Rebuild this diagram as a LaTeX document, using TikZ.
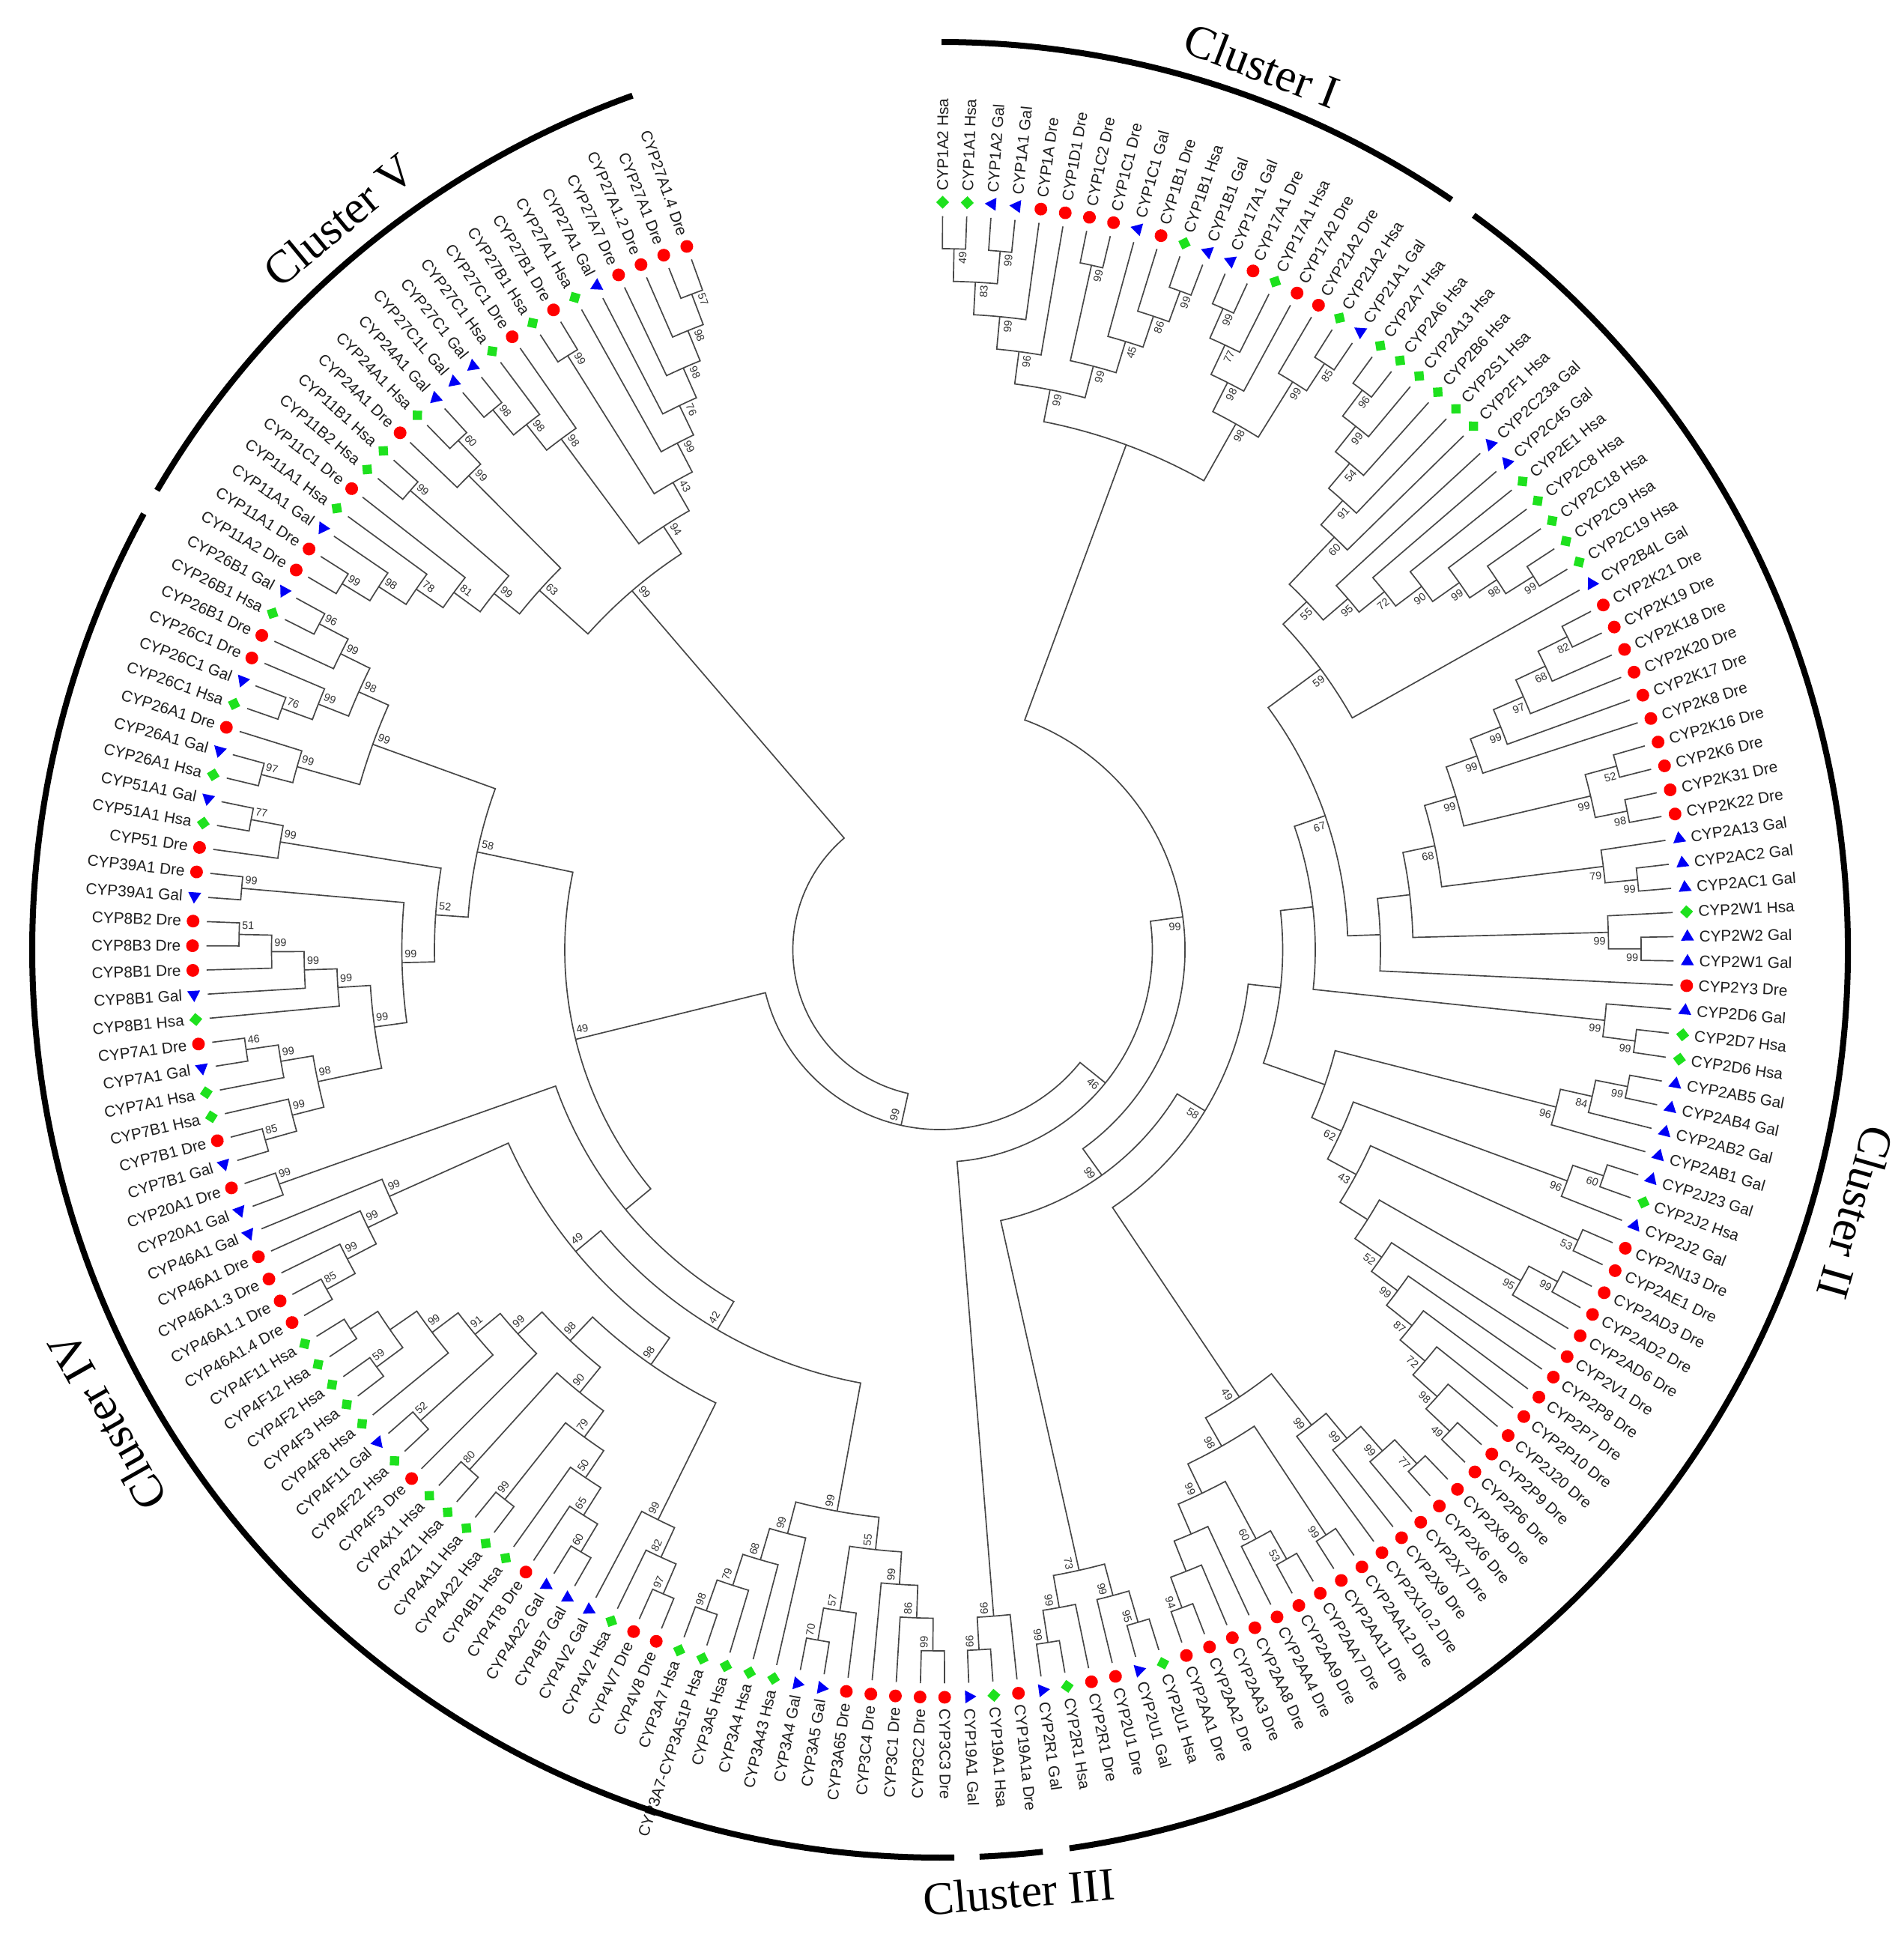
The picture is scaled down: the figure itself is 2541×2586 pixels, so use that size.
\documentclass[tikz,border=0pt]{standalone}
\usepackage{fontspec}
\setmainfont{Liberation Serif}
\newfontfamily\arialf{Liberation Sans}
\definecolor{mred}{RGB}{255,0,0}
\definecolor{mgreen}{RGB}{30,225,30}
\definecolor{mblue}{RGB}{0,0,245}
\tikzset{
 br/.style={draw=black!72, line width=0.42pt},
 leaflab/.style={font=\arialf\fontsize{5.2}{6}\selectfont, inner sep=0pt, text=black!88},
 bslab/.style={font=\arialf\fontsize{3.6}{4}\selectfont, inner sep=0pt, text=black!80},
 clus/.style={line width=2pt, draw=black},
 cluslab/.style={font=\fontsize{15.5}{18}\selectfont, inner sep=0pt},
}
\def\RL{979.5}
\def\STEP{43.5}
\def\mkR{\fill[mred] (0,0) circle (8.5);}
\def\mkG{\fill[mgreen] (8.7,0) -- (0,8.7) -- (-8.7,0) -- (0,-8.7) -- cycle;}
\def\mkB{\fill[mblue] (0,9.5) -- (-8.7,-5.5) -- (8.7,-5.5) -- cycle;}
\newcommand\lf[3]{%
  \pgfmathsetmacro\tA{89.8-(#1-1)*1.888889}%
  \expandafter\xdef\csname trA L#1\endcsname{\tA}%
  \expandafter\xdef\csname trD L#1\endcsname{0}%
  \coordinate (L#1) at (\tA:\RL);
  \begin{scope}[shift={(\tA:998)},rotate=\tA]\csname mk#3\endcsname\end{scope}
  \ifdim\tA pt>-90pt
    \node[leaflab,anchor=west,rotate=\tA] (T#1) at (\tA:1013) {#2};
  \else
    \pgfmathsetmacro\tR{\tA+180}%
    \node[leaflab,anchor=east,rotate=\tR] (T#1) at (\tA:1013) {#2};
  \fi
}
\newcommand\nd[4]{%
  \edef\cA{\csname trA #2\endcsname}\edef\cB{\csname trA #3\endcsname}%
  \edef\eA{\csname trD #2\endcsname}\edef\eB{\csname trD #3\endcsname}%
  \pgfmathsetmacro\nA{(\cA+\cB)/2}%
  \pgfmathtruncatemacro\nD{max(\eA,\eB)+1}%
  \pgfmathsetmacro\nR{\RL-\STEP*\nD}%
  \expandafter\xdef\csname trA #1\endcsname{\nA}%
  \expandafter\xdef\csname trD #1\endcsname{\nD}%
  \coordinate (#1) at (\nA:\nR);
  \coordinate (#1-a) at (\cA:\nR);
  \draw[br] (#2) -- (#1-a) arc[start angle=\cA,end angle=\cB,radius=\nR] -- (#3);
  \if\relax\detokenize{#4}\relax\else
    \pgfmathsetmacro\lA{\nA-12/\nR*57.29578}%
    \pgfmathsetmacro\lR{\nR-3}%
    \ifdim\nA pt>-90pt
      \node[bslab,anchor=east,rotate=\lA] (#1-l) at (\lA:\lR) {#4};
    \else
      \pgfmathsetmacro\lT{\lA+180}%
      \node[bslab,anchor=west,rotate=\lT] (#1-l) at (\lA:\lR) {#4};
    \fi
  \fi
}
\begin{document}
\begin{tikzpicture}[x=0.25pt,y=0.25pt]
\useasboundingbox (-1255,-1318) rectangle (1286,1268);
\fill[white] (-1255,-1318) rectangle (1286,1268);
% ---------------- leaves ----------------
\lf{1}{CYP1A2 Hsa}{G}
\lf{2}{CYP1A1 Hsa}{G}
\lf{3}{CYP1A2 Gal}{B}
\lf{4}{CYP1A1 Gal}{B}
\lf{5}{CYP1A Dre}{R}
\lf{6}{CYP1D1 Dre}{R}
\lf{7}{CYP1C2 Dre}{R}
\lf{8}{CYP1C1 Dre}{R}
\lf{9}{CYP1C1 Gal}{B}
\lf{10}{CYP1B1 Dre}{R}
\lf{11}{CYP1B1 Hsa}{G}
\lf{12}{CYP1B1 Gal}{B}
\lf{13}{CYP17A1 Gal}{B}
\lf{14}{CYP17A1 Dre}{R}
\lf{15}{CYP17A1 Hsa}{G}
\lf{16}{CYP17A2 Dre}{R}
\lf{17}{CYP21A2 Dre}{R}
\lf{18}{CYP21A2 Hsa}{G}
\lf{19}{CYP21A1 Gal}{B}
\lf{20}{CYP2A7 Hsa}{G}
\lf{21}{CYP2A6 Hsa}{G}
\lf{22}{CYP2A13 Hsa}{G}
\lf{23}{CYP2B6 Hsa}{G}
\lf{24}{CYP2S1 Hsa}{G}
\lf{25}{CYP2F1 Hsa}{G}
\lf{26}{CYP2C23a Gal}{B}
\lf{27}{CYP2C45 Gal}{B}
\lf{28}{CYP2E1 Hsa}{G}
\lf{29}{CYP2C8 Hsa}{G}
\lf{30}{CYP2C18 Hsa}{G}
\lf{31}{CYP2C9 Hsa}{G}
\lf{32}{CYP2C19 Hsa}{G}
\lf{33}{CYP2B4L Gal}{B}
\lf{34}{CYP2K21 Dre}{R}
\lf{35}{CYP2K19 Dre}{R}
\lf{36}{CYP2K18 Dre}{R}
\lf{37}{CYP2K20 Dre}{R}
\lf{38}{CYP2K17 Dre}{R}
\lf{39}{CYP2K8 Dre}{R}
\lf{40}{CYP2K16 Dre}{R}
\lf{41}{CYP2K6 Dre}{R}
\lf{42}{CYP2K31 Dre}{R}
\lf{43}{CYP2K22 Dre}{R}
\lf{44}{CYP2A13 Gal}{B}
\lf{45}{CYP2AC2 Gal}{B}
\lf{46}{CYP2AC1 Gal}{B}
\lf{47}{CYP2W1 Hsa}{G}
\lf{48}{CYP2W2 Gal}{B}
\lf{49}{CYP2W1 Gal}{B}
\lf{50}{CYP2Y3 Dre}{R}
\lf{51}{CYP2D6 Gal}{B}
\lf{52}{CYP2D7 Hsa}{G}
\lf{53}{CYP2D6 Hsa}{G}
\lf{54}{CYP2AB5 Gal}{B}
\lf{55}{CYP2AB4 Gal}{B}
\lf{56}{CYP2AB2 Gal}{B}
\lf{57}{CYP2AB1 Gal}{B}
\lf{58}{CYP2J23 Gal}{B}
\lf{59}{CYP2J2 Hsa}{G}
\lf{60}{CYP2J2 Gal}{B}
\lf{61}{CYP2N13 Dre}{R}
\lf{62}{CYP2AE1 Dre}{R}
\lf{63}{CYP2AD3 Dre}{R}
\lf{64}{CYP2AD2 Dre}{R}
\lf{65}{CYP2AD6 Dre}{R}
\lf{66}{CYP2V1 Dre}{R}
\lf{67}{CYP2P8 Dre}{R}
\lf{68}{CYP2P7 Dre}{R}
\lf{69}{CYP2P10 Dre}{R}
\lf{70}{CYP2J20 Dre}{R}
\lf{71}{CYP2P9 Dre}{R}
\lf{72}{CYP2P6 Dre}{R}
\lf{73}{CYP2X8 Dre}{R}
\lf{74}{CYP2X6 Dre}{R}
\lf{75}{CYP2X7 Dre}{R}
\lf{76}{CYP2X9 Dre}{R}
\lf{77}{CYP2X10.2 Dre}{R}
\lf{78}{CYP2AA12 Dre}{R}
\lf{79}{CYP2AA11 Dre}{R}
\lf{80}{CYP2AA7 Dre}{R}
\lf{81}{CYP2AA9 Dre}{R}
\lf{82}{CYP2AA4 Dre}{R}
\lf{83}{CYP2AA8 Dre}{R}
\lf{84}{CYP2AA3 Dre}{R}
\lf{85}{CYP2AA2 Dre}{R}
\lf{86}{CYP2AA1 Dre}{R}
\lf{87}{CYP2U1 Hsa}{G}
\lf{88}{CYP2U1 Gal}{B}
\lf{89}{CYP2U1 Dre}{R}
\lf{90}{CYP2R1 Dre}{R}
\lf{91}{CYP2R1 Hsa}{G}
\lf{92}{CYP2R1 Gal}{B}
\lf{93}{CYP19A1a Dre}{R}
\lf{94}{CYP19A1 Hsa}{G}
\lf{95}{CYP19A1 Gal}{B}
\lf{96}{CYP3C3 Dre}{R}
\lf{97}{CYP3C2 Dre}{R}
\lf{98}{CYP3C1 Dre}{R}
\lf{99}{CYP3C4 Dre}{R}
\lf{100}{CYP3A65 Dre}{R}
\lf{101}{CYP3A5 Gal}{B}
\lf{102}{CYP3A4 Gal}{B}
\lf{103}{CYP3A43 Hsa}{G}
\lf{104}{CYP3A4 Hsa}{G}
\lf{105}{CYP3A5 Hsa}{G}
\lf{106}{CYP3A7-CYP3A51P Hsa}{G}
\lf{107}{CYP3A7 Hsa}{G}
\lf{108}{CYP4V8 Dre}{R}
\lf{109}{CYP4V7 Dre}{R}
\lf{110}{CYP4V2 Hsa}{G}
\lf{111}{CYP4V2 Gal}{B}
\lf{112}{CYP4B7 Gal}{B}
\lf{113}{CYP4A22 Gal}{B}
\lf{114}{CYP4T8 Dre}{R}
\lf{115}{CYP4B1 Hsa}{G}
\lf{116}{CYP4A22 Hsa}{G}
\lf{117}{CYP4A11 Hsa}{G}
\lf{118}{CYP4Z1 Hsa}{G}
\lf{119}{CYP4X1 Hsa}{G}
\lf{120}{CYP4F3 Dre}{R}
\lf{121}{CYP4F22 Hsa}{G}
\lf{122}{CYP4F11 Gal}{B}
\lf{123}{CYP4F8 Hsa}{G}
\lf{124}{CYP4F3 Hsa}{G}
\lf{125}{CYP4F2 Hsa}{G}
\lf{126}{CYP4F12 Hsa}{G}
\lf{127}{CYP4F11 Hsa}{G}
\lf{128}{CYP46A1.4 Dre}{R}
\lf{129}{CYP46A1.1 Dre}{R}
\lf{130}{CYP46A1.3 Dre}{R}
\lf{131}{CYP46A1 Dre}{R}
\lf{132}{CYP46A1 Gal}{B}
\lf{133}{CYP20A1 Gal}{B}
\lf{134}{CYP20A1 Dre}{R}
\lf{135}{CYP7B1 Gal}{B}
\lf{136}{CYP7B1 Dre}{R}
\lf{137}{CYP7B1 Hsa}{G}
\lf{138}{CYP7A1 Hsa}{G}
\lf{139}{CYP7A1 Gal}{B}
\lf{140}{CYP7A1 Dre}{R}
\lf{141}{CYP8B1 Hsa}{G}
\lf{142}{CYP8B1 Gal}{B}
\lf{143}{CYP8B1 Dre}{R}
\lf{144}{CYP8B3 Dre}{R}
\lf{145}{CYP8B2 Dre}{R}
\lf{146}{CYP39A1 Gal}{B}
\lf{147}{CYP39A1 Dre}{R}
\lf{148}{CYP51 Dre}{R}
\lf{149}{CYP51A1 Hsa}{G}
\lf{150}{CYP51A1 Gal}{B}
\lf{151}{CYP26A1 Hsa}{G}
\lf{152}{CYP26A1 Gal}{B}
\lf{153}{CYP26A1 Dre}{R}
\lf{154}{CYP26C1 Hsa}{G}
\lf{155}{CYP26C1 Gal}{B}
\lf{156}{CYP26C1 Dre}{R}
\lf{157}{CYP26B1 Dre}{R}
\lf{158}{CYP26B1 Hsa}{G}
\lf{159}{CYP26B1 Gal}{B}
\lf{160}{CYP11A2 Dre}{R}
\lf{161}{CYP11A1 Dre}{R}
\lf{162}{CYP11A1 Gal}{B}
\lf{163}{CYP11A1 Hsa}{G}
\lf{164}{CYP11C1 Dre}{R}
\lf{165}{CYP11B2 Hsa}{G}
\lf{166}{CYP11B1 Hsa}{G}
\lf{167}{CYP24A1 Dre}{R}
\lf{168}{CYP24A1 Hsa}{G}
\lf{169}{CYP24A1 Gal}{B}
\lf{170}{CYP27C1L Gal}{B}
\lf{171}{CYP27C1 Gal}{B}
\lf{172}{CYP27C1 Hsa}{G}
\lf{173}{CYP27C1 Dre}{R}
\lf{174}{CYP27B1 Hsa}{G}
\lf{175}{CYP27B1 Dre}{R}
\lf{176}{CYP27A1 Hsa}{G}
\lf{177}{CYP27A1 Gal}{B}
\lf{178}{CYP27A7 Dre}{R}
\lf{179}{CYP27A1.2 Dre}{R}
\lf{180}{CYP27A1 Dre}{R}
\lf{181}{CYP27A1.4 Dre}{R}
% ---------------- Cluster I ----------------
\nd{a1}{L1}{L2}{49}
\nd{a2}{L3}{L4}{99}
\nd{a3}{a1}{a2}{83}
\nd{a4}{a3}{L5}{99}
\nd{a5}{a4}{L6}{96}
\nd{a6}{L7}{L8}{99}
\nd{a7}{L11}{L12}{99}
\nd{a8}{L10}{a7}{86}
\nd{a9}{L9}{a8}{45}
\nd{a10}{a6}{a9}{99}
\nd{a11}{a5}{a10}{99}
\nd{a12}{L13}{L14}{99}
\nd{a13}{a12}{L15}{77}
\nd{a14}{a13}{L16}{98}
\nd{a15}{L18}{L19}{85}
\nd{a16}{L17}{a15}{99}
\nd{a17}{a14}{a16}{98}
\nd{G}{a11}{a17}{}
% ---------------- Cluster II ----------------
\nd{b1}{L20}{L21}{96}
\nd{b2}{b1}{L22}{99}
\nd{b3}{b2}{L23}{54}
\nd{b4}{b3}{L24}{91}
\nd{b5}{b4}{L25}{60}
\nd{c1}{L31}{L32}{99}
\nd{c2}{L30}{c1}{98}
\nd{c3}{L29}{c2}{99}
\nd{c4}{L28}{c3}{90}
\nd{c5}{L27}{c4}{72}
\nd{c6}{L26}{c5}{95}
\nd{b6}{b5}{c6}{55}
\nd{b7}{b6}{L33}{59}
\nd{k1}{L34}{L35}{82}
\nd{k2}{k1}{L36}{68}
\nd{k3}{k2}{L37}{97}
\nd{k4}{k3}{L38}{99}
\nd{k5}{k4}{L39}{99}
\nd{k6}{L40}{L41}{52}
\nd{k7}{L42}{L43}{98}
\nd{k8}{k6}{k7}{99}
\nd{k9}{k5}{k8}{99}
\nd{ac1}{L45}{L46}{99}
\nd{ac2}{L44}{ac1}{79}
\nd{k10}{k9}{ac2}{68}
\nd{w1}{L48}{L49}{99}
\nd{w2}{L47}{w1}{99}
\nd{kw}{k10}{w2}{}
\nd{ky}{kw}{L50}{}
\nd{n67}{b7}{ky}{67}
\nd{d1}{L52}{L53}{99}
\nd{d2}{L51}{d1}{99}
\nd{J}{n67}{d2}{}
\nd{ab1}{L54}{L55}{99}
\nd{ab2}{ab1}{L56}{84}
\nd{ab3}{ab2}{L57}{96}
\nd{j1}{L58}{L59}{60}
\nd{j2}{j1}{L60}{96}
\nd{ne1}{L61}{L62}{53}
\nd{ad1}{L63}{L64}{99}
\nd{ad2}{ad1}{L65}{95}
\nd{p1}{L71}{L72}{49}
\nd{p2}{L70}{p1}{98}
\nd{p3}{L69}{p2}{72}
\nd{p4}{L68}{p3}{87}
\nd{p5}{L67}{p4}{99}
\nd{x5}{L66}{p5}{52}
\nd{x4}{ad2}{x5}{}
\nd{x3}{ne1}{x4}{43}
\nd{x2}{j2}{x3}{62}
\nd{X}{ab3}{x2}{}
\nd{H}{J}{X}{}
\nd{x1a}{L73}{L74}{77}
\nd{x1b}{x1a}{L75}{99}
\nd{x1c}{x1b}{L76}{99}
\nd{x1d}{x1c}{L77}{99}
\nd{aa1}{L78}{L79}{99}
\nd{aa2}{L80}{L81}{53}
\nd{aa3}{aa2}{L82}{60}
\nd{aa4}{L85}{L86}{94}
\nd{aa5}{L84}{aa4}{}
\nd{aa6}{L83}{aa5}{}
\nd{aa7}{aa3}{aa6}{99}
\nd{aa8}{aa1}{aa7}{98}
\nd{N49}{x1d}{aa8}{49}
\nd{F}{N49}{H}{58}
\nd{u1}{L87}{L88}{95}
\nd{u2}{u1}{L89}{99}
\nd{r1}{L91}{L92}{99}
\nd{r2}{L90}{r1}{99}
\nd{ur}{u2}{r2}{73}
\nd{E}{ur}{F}{99}
\nd{D}{G}{E}{99}
% ---------------- Cluster III ----------------
\nd{s1}{L94}{L95}{99}
\nd{s2}{L93}{s1}{99}
\nd{C}{s2}{D}{46}
% ---------------- Cluster IV ----------------
\nd{t1}{L96}{L97}{99}
\nd{t2}{L98}{t1}{86}
\nd{t3}{L99}{t2}{99}
\nd{t4}{L101}{L102}{70}
\nd{t5}{L100}{t4}{57}
\nd{t6}{t3}{t5}{55}
\nd{h1}{L106}{L107}{98}
\nd{h2}{L105}{h1}{79}
\nd{h3}{L104}{h2}{68}
\nd{h4}{L103}{h3}{99}
\nd{CY3}{h4}{t6}{99}
\nd{v1}{L108}{L109}{97}
\nd{v2}{L110}{v1}{82}
\nd{v3}{L111}{v2}{99}
\nd{q1}{L112}{L113}{60}
\nd{q2}{q1}{L114}{65}
\nd{q3}{q2}{L115}{50}
\nd{q4}{L116}{L117}{99}
\nd{q5}{q3}{q4}{79}
\nd{q6}{L118}{L119}{80}
\nd{q7}{q5}{q6}{90}
\nd{f1}{L126}{L127}{}
\nd{f2}{L124}{L125}{59}
\nd{f3}{f2}{f1}{}
\nd{f4}{L123}{f3}{99}
\nd{f5}{L121}{L122}{52}
\nd{f6}{f5}{f4}{91}
\nd{f7}{L120}{f6}{99}
\nd{q8}{q7}{f7}{98}
\nd{CY4}{v3}{q8}{98}
\nd{m1}{L128}{L129}{85}
\nd{m2}{m1}{L130}{99}
\nd{m3}{m2}{L131}{99}
\nd{m4}{m3}{L132}{99}
\nd{n49L}{m4}{CY4}{49}
\nd{n42}{n49L}{CY3}{42}
\nd{z1}{L133}{L134}{99}
\nd{n10L}{z1}{n42}{}
\nd{g1}{L135}{L136}{85}
\nd{g2}{g1}{L137}{99}
\nd{g3}{L139}{L140}{46}
\nd{g4}{L138}{g3}{99}
\nd{g5}{g2}{g4}{98}
\nd{e1}{L144}{L145}{51}
\nd{e2}{L143}{e1}{99}
\nd{e3}{L142}{e2}{99}
\nd{e4}{L141}{e3}{99}
\nd{e5}{g5}{e4}{99}
\nd{y1}{L146}{L147}{99}
\nd{e6}{e5}{y1}{99}
\nd{o1}{L149}{L150}{77}
\nd{o2}{L148}{o1}{99}
\nd{e7}{e6}{o2}{52}
\nd{i1}{L151}{L152}{97}
\nd{i2}{i1}{L153}{99}
\nd{i3}{L154}{L155}{76}
\nd{i4}{i3}{L156}{99}
\nd{i5}{L158}{L159}{96}
\nd{i6}{L157}{i5}{99}
\nd{i7}{i4}{i6}{98}
\nd{i8}{i2}{i7}{99}
\nd{n58}{e7}{i8}{58}
\nd{K}{n58}{n10L}{49}
\nd{B}{K}{C}{99}
% ---------------- Cluster V ----------------
\nd{v11a}{L160}{L161}{99}
\nd{v11b}{v11a}{L162}{98}
\nd{v11c}{v11b}{L163}{78}
\nd{v11d}{v11c}{L164}{81}
\nd{v11e}{L165}{L166}{99}
\nd{v11}{v11d}{v11e}{99}
\nd{v24a}{L168}{L169}{60}
\nd{v24}{L167}{v24a}{99}
\nd{v63}{v11}{v24}{63}
\nd{c27a}{L170}{L171}{98}
\nd{c27b}{c27a}{L172}{98}
\nd{c27c}{c27b}{L173}{98}
\nd{b27}{L174}{L175}{99}
\nd{a27a}{L180}{L181}{57}
\nd{a27b}{L179}{a27a}{98}
\nd{a27c}{L178}{a27b}{98}
\nd{a27d}{L177}{a27c}{76}
\nd{a27e}{L176}{a27d}{99}
\nd{v43}{b27}{a27e}{43}
\nd{v94}{c27c}{v43}{94}
\nd{v99}{v63}{v94}{99}
\nd{root}{v99}{B}{}
% ---------------- cluster arcs ----------------
\draw[clus] (89.9:1212) arc[start angle=89.9,end angle=55.7,radius=1212];
\draw[clus] (54:1212) arc[start angle=54,end angle=-81.8,radius=1212];
\draw[clus] (-83.5:1212) arc[start angle=-83.5,end angle=-87.5,radius=1212];
\draw[clus] (-89.1:1212) arc[start angle=-89.1,end angle=-208.7,radius=1212];
\draw[clus] (-210.4:1212) arc[start angle=-210.4,end angle=-250.2,radius=1212];
\node[cluslab,rotate=-21] (cI) at (70:1256) {Cluster I};
\node[cluslab,rotate=-106] (cII) at (-16:1272) {Cluster II};
\node[cluslab,rotate=4.8] (cIII) at (-85.2:1262) {Cluster III};
\node[cluslab,rotate=119.5] (cIV) at (209.5:1278) {Cluster IV};
\node[cluslab,rotate=39.5] (cV) at (129.5:1262) {Cluster V};
\end{tikzpicture}
\end{document}
